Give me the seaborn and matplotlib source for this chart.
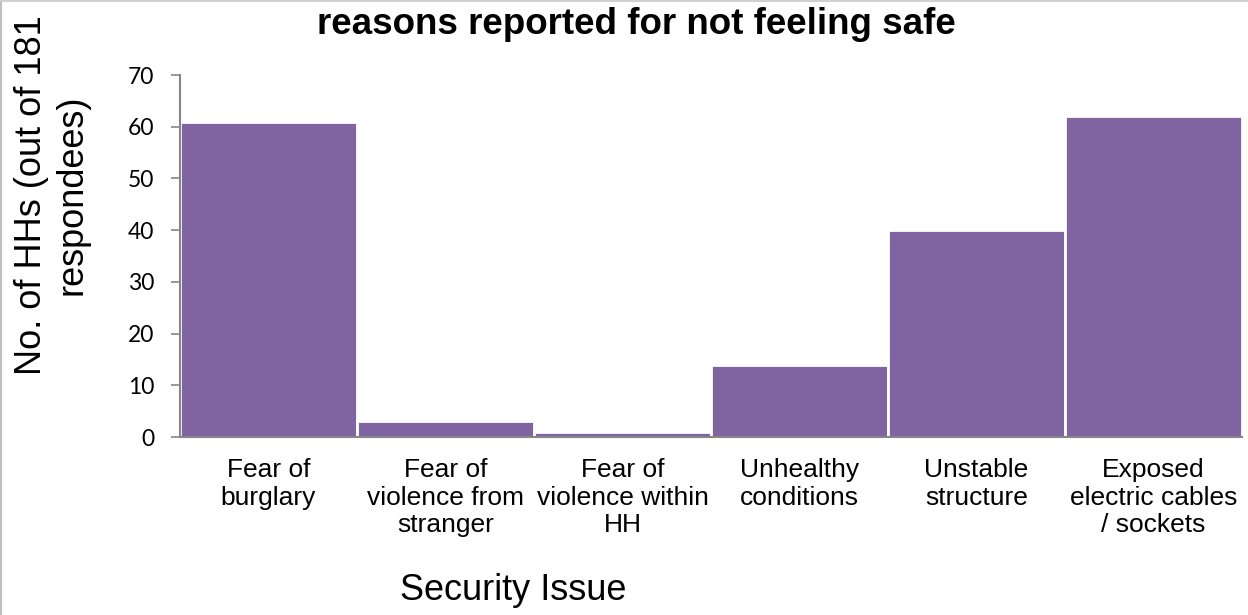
import matplotlib
matplotlib.use("Agg")
import matplotlib.pyplot as plt
import matplotlib.patheffects as pe
from matplotlib.lines import Line2D
import seaborn as sns
import pandas as pd

categories = [
    "Fear of\nburglary",
    "Fear of\nviolence from\nstranger",
    "Fear of\nviolence within\nHH",
    "Unhealthy\nconditions",
    "Unstable\nstructure",
    "Exposed\nelectric cables\n/ sockets",
]
counts = [61, 3, 1, 14, 40, 62]
y_ticks = [0, 10, 20, 30, 40, 50, 60, 70]

sns.set_theme(style="white")
plt.rcParams["font.family"] = ["Liberation Sans", "DejaVu Sans"]
plt.rcParams.update({"text.color": "black", "axes.labelcolor": "black",
                     "xtick.color": "black", "ytick.color": "black"})

df = pd.DataFrame({"issue": categories, "count": counts})

W, H = 1248, 615
fig = plt.figure(figsize=(W / 100, H / 100), dpi=100)
ax = fig.add_axes([180 / W, 1 - 437 / H, (1242 - 180) / W, (437 - 75) / H])

sns.barplot(data=df, x="issue", y="count", color="#8064A2", saturation=1,
            width=1.0, edgecolor="white", linewidth=2, ax=ax)
for bar in ax.patches:
    bar.set_path_effects([pe.SimplePatchShadow(offset=(1.5, -1.5), alpha=0.25,
                                               shadow_rgbFace="#808080"),
                          pe.Normal()])

ax.set_xlim(-0.5, len(categories) - 0.5)
ax.set_ylim(0, 70)
ax.set_yticks(y_ticks)
ax.set_yticklabels([str(v) for v in y_ticks], fontfamily="Lato", fontsize=16.5)
ax.tick_params(axis="y", direction="out", length=6.5, width=1.2,
               color="#868686", pad=12, left=True)
ax.tick_params(axis="x", length=0, pad=15, labelsize=19)

for side in ("top", "right"):
    ax.spines[side].set_visible(False)
for side in ("left", "bottom"):
    ax.spines[side].set_color("#868686")
    ax.spines[side].set_linewidth(1.5)

ax.set_xlabel("Security Issue", fontsize=26)
ax.xaxis.set_label_coords((513 - 180) / 1062, (437 - 590) / 362)
ax.xaxis.label.set_verticalalignment("center")

ax.set_ylabel("No. of HHs (out of 181\nrespondees)", fontsize=26)
ax.yaxis.set_label_coords((52 - 180) / 1062, (437 - 195) / 362)
ax.yaxis.label.set_verticalalignment("center")

fig.text(636 / W, 1 - 34 / H, "reasons reported for not feeling safe",
         fontsize=26.5, fontweight="bold", ha="center", va="baseline")

# outer chart frame
fig.add_artist(Line2D([1 / W, 1 / W], [0, 1], color="#BFBFBF", lw=1.5,
                      transform=fig.transFigure))
fig.add_artist(Line2D([0, 1], [1 - 0.5 / H, 1 - 0.5 / H], color="#D0D0D0",
                      lw=1.5, transform=fig.transFigure))

fig.savefig("out.png", dpi=100)
